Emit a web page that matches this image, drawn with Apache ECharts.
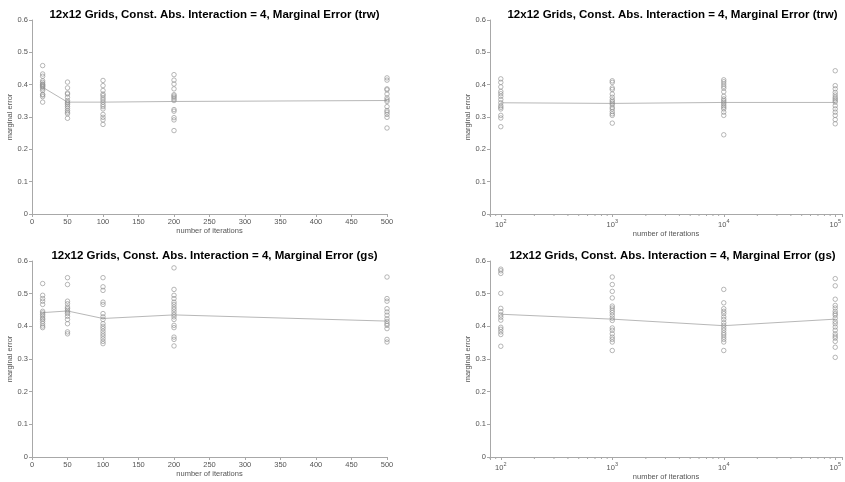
<!DOCTYPE html>
<html>
<head>
<meta charset="utf-8">
<script src="https://cdn.jsdelivr.net/npm/echarts@6/dist/echarts.min.js"></script>
<style>html,body{margin:0;padding:0;background:#fff}#c{width:845px;height:482px}</style>
</head>
<body>
<div id="c"></div>
<script>
// ---- data ----
const titleTrw = '12x12 Grids, Const. Abs. Interaction = 4, Marginal Error (trw)';
const titleGs = '12x12 Grids, Const. Abs. Interaction = 4, Marginal Error (gs)';
const xLabel = 'number of iterations';
const yLabel = 'marginal error';

const xLin = [15, 50, 100, 200, 500];
const xLog = [100, 1000, 10000, 100000];
const linTicks = [0, 50, 100, 150, 200, 250, 300, 350, 400, 450, 500];
const yTicks = [0, 0.1, 0.2, 0.3, 0.4, 0.5, 0.6];
const logMinorTicks = [80, 90, 200, 300, 400, 500, 600, 700, 800, 900,
  2000, 3000, 4000, 5000, 6000, 7000, 8000, 9000,
  20000, 30000, 40000, 50000, 60000, 70000, 80000, 90000];

// trw, linear axis
const trwLin15 = [0.459,0.433,0.426,0.412,0.407,0.402,0.400,0.397,0.395,0.392,0.387,0.382,0.370,0.368,0.363,0.346];
const trwLin50 = [0.408,0.390,0.374,0.371,0.361,0.351,0.346,0.343,0.338,0.333,0.327,0.320,0.315,0.310,0.296];
const trwLin100 = [0.413,0.397,0.382,0.371,0.366,0.359,0.353,0.346,0.338,0.332,0.325,0.308,0.299,0.291,0.277];
const trwLin200 = [0.431,0.414,0.402,0.387,0.369,0.365,0.361,0.356,0.351,0.323,0.318,0.298,0.291,0.258];
const trwLin500 = [0.421,0.414,0.387,0.384,0.371,0.359,0.353,0.348,0.332,0.320,0.315,0.308,0.299,0.266];
const trwLinMean = [0.392, 0.346, 0.346, 0.348, 0.351];

// trw, log axis
const trwLog100 = [0.418,0.407,0.393,0.379,0.372,0.364,0.354,0.344,0.335,0.330,0.325,0.305,0.297,0.270];
const trwLog1e3 = [0.412,0.407,0.390,0.385,0.371,0.361,0.353,0.348,0.343,0.338,0.330,0.325,0.317,0.310,0.305,0.281];
const trwLog1e4 = [0.415,0.409,0.402,0.395,0.389,0.378,0.364,0.356,0.351,0.346,0.341,0.335,0.330,0.325,0.315,0.305,0.245];
const trwLog1e5 = [0.443,0.397,0.387,0.376,0.368,0.361,0.356,0.351,0.346,0.335,0.325,0.315,0.305,0.292,0.279];
const trwLogMean = [0.344, 0.342, 0.345, 0.345];

// gs, linear axis
const gsLin15 = [0.531,0.495,0.485,0.477,0.467,0.446,0.441,0.436,0.431,0.425,0.421,0.415,0.408,0.401,0.396];
const gsLin50 = [0.549,0.528,0.477,0.469,0.459,0.454,0.449,0.444,0.439,0.431,0.421,0.408,0.383,0.377];
const gsLin100 = [0.549,0.521,0.510,0.474,0.467,0.439,0.429,0.421,0.408,0.400,0.393,0.385,0.377,0.370,0.362,0.354,0.347];
const gsLin200 = [0.579,0.513,0.495,0.485,0.474,0.467,0.459,0.452,0.444,0.436,0.429,0.421,0.403,0.396,0.367,0.360,0.340];
const gsLin500 = [0.551,0.485,0.477,0.454,0.444,0.434,0.423,0.415,0.408,0.403,0.393,0.360,0.352];
const gsLinMean = [0.442, 0.447, 0.424, 0.435, 0.416];

// gs, log axis
const gsLog100 = [0.575,0.570,0.562,0.501,0.455,0.445,0.435,0.428,0.419,0.397,0.391,0.383,0.375,0.339];
const gsLog1e3 = [0.551,0.528,0.507,0.487,0.462,0.456,0.449,0.442,0.434,0.425,0.418,0.395,0.388,0.377,0.367,0.360,0.352,0.326];
const gsLog1e4 = [0.513,0.472,0.454,0.446,0.439,0.429,0.421,0.411,0.403,0.395,0.388,0.380,0.374,0.367,0.360,0.352,0.326];
const gsLog1e5 = [0.546,0.524,0.483,0.464,0.456,0.446,0.439,0.434,0.425,0.415,0.408,0.398,0.388,0.377,0.370,0.364,0.354,0.336,0.305];
const gsLogMean = [0.437, 0.422, 0.402, 0.422];

// ---- build ----
const FONT = '"Liberation Sans", Arial, Helvetica, sans-serif';
const AXIS_COLOR = '#a8a8a8';
const LABEL_COLOR = '#555';
const MARK_COLOR = '#8e8e8e';
const LINE_COLOR = '#b8b8b8';

function pts(xs, groups) {
  const out = [];
  groups.forEach((g, i) => g.forEach(v => out.push([xs[i], v])));
  return out;
}

const panels = [
  {title: titleTrw, log: false, groups: [trwLin15, trwLin50, trwLin100, trwLin200, trwLin500], mean: trwLinMean, left: 32, top: 20, height: 194, titleTop: 4},
  {title: titleTrw, log: true, groups: [trwLog100, trwLog1e3, trwLog1e4, trwLog1e5], mean: trwLogMean, left: 490, top: 20, height: 194, titleTop: 4},
  {title: titleGs, log: false, groups: [gsLin15, gsLin50, gsLin100, gsLin200, gsLin500], mean: gsLinMean, left: 32, top: 261, height: 196, titleTop: 245},
  {title: titleGs, log: true, groups: [gsLog100, gsLog1e3, gsLog1e4, gsLog1e5], mean: gsLogMean, left: 490, top: 261, height: 196, titleTop: 245}
];
const W = 355;

const option = {
  animation: false,
  backgroundColor: '#fff',
  textStyle: {fontFamily: FONT},
  title: [], grid: [], xAxis: [], yAxis: [], series: []
};

panels.forEach((p, i) => {
  option.title.push({
    text: p.title, left: p.left + W / 2, top: p.titleTop, textAlign: 'center',
    textStyle: {fontFamily: FONT, fontWeight: 'bold', fontSize: 11.5, color: '#000'}
  });
  option.grid.push({left: p.left, top: p.top, width: W, height: p.height, containLabel: false});
  const xCommon = {
    gridIndex: i,
    name: xLabel, nameLocation: 'middle', nameGap: 13,
    nameTextStyle: {fontFamily: FONT, fontSize: 7.5, color: LABEL_COLOR},
    axisLine: {show: true, lineStyle: {color: AXIS_COLOR, width: 1}},
    axisTick: {show: true, length: 3, lineStyle: {color: AXIS_COLOR}},
    splitLine: {show: false},
    axisLabel: {fontFamily: FONT, fontSize: 7.5, color: LABEL_COLOR, margin: 4}
  };
  if (p.log) {
    option.xAxis.push(Object.assign({}, xCommon, {
      type: 'log', logBase: 10, min: 80, max: 115000,
      axisTick: {show: true, length: 3, lineStyle: {color: AXIS_COLOR},
        interval: (idx, v) => Math.abs(Math.log10(v) - Math.round(Math.log10(v))) < 1e-6},
      axisLabel: {
        fontFamily: FONT, color: LABEL_COLOR, margin: 4,
        showMinLabel: true, showMaxLabel: true,
        formatter: v => {
          const e = Math.log10(v);
          if (Math.abs(e - Math.round(e)) > 1e-6) return '';
          return '{b|10}{s|' + Math.round(e) + '}';
        },
        rich: {
          b: {fontFamily: FONT, fontSize: 7.5, color: LABEL_COLOR, verticalAlign: 'bottom', lineHeight: 11},
          s: {fontFamily: FONT, fontSize: 5.5, color: LABEL_COLOR, verticalAlign: 'top', lineHeight: 11, padding: [0, 0, 4, 0]}
        }
      }
    }));
  } else {
    option.xAxis.push(Object.assign({}, xCommon, {
      type: 'value', min: linTicks[0], max: linTicks[linTicks.length - 1],
      interval: linTicks[1] - linTicks[0]
    }));
  }
  option.yAxis.push({
    gridIndex: i, type: 'value', min: yTicks[0], max: yTicks[yTicks.length - 1], interval: 0.1,
    name: yLabel, nameLocation: 'middle', nameGap: 14,
    nameTextStyle: {fontFamily: FONT, fontSize: 7.5, color: LABEL_COLOR},
    axisLine: {show: true, lineStyle: {color: AXIS_COLOR, width: 1}},
    axisTick: {show: true, length: 3, lineStyle: {color: AXIS_COLOR}},
    splitLine: {show: false},
    axisLabel: {fontFamily: FONT, fontSize: 7.5, color: LABEL_COLOR, margin: 4,
      formatter: v => (Math.round(v * 10) / 10).toString()}
  });
  const xs = p.log ? xLog : xLin;
  option.series.push({
    type: 'scatter', xAxisIndex: i, yAxisIndex: i, symbol: 'circle', symbolSize: 4.5,
    itemStyle: {color: 'rgba(0,0,0,0)', borderColor: MARK_COLOR, borderWidth: 0.8},
    data: pts(xs, p.groups), z: 3
  });
  option.series.push({
    type: 'line', xAxisIndex: i, yAxisIndex: i, showSymbol: false, symbol: 'none',
    lineStyle: {color: LINE_COLOR, width: 1},
    data: xs.map((x, k) => [x, p.mean[k]]), z: 2
  });
  if (p.log) {
    option.series.push({
      type: 'custom', xAxisIndex: i, yAxisIndex: i, clip: false, silent: true,
      data: logMinorTicks.map(v => [v, 0]),
      renderItem: (params, api) => {
        const c = api.coord([api.value(0), 0]);
        return {type: 'line', shape: {x1: c[0], y1: c[1], x2: c[0], y2: c[1] + 2},
          style: {stroke: AXIS_COLOR, lineWidth: 1}};
      }
    });
  }
});

const chart = echarts.init(document.getElementById('c'), null, {renderer: 'canvas'});
chart.setOption(option);
</script>
</body>
</html>
